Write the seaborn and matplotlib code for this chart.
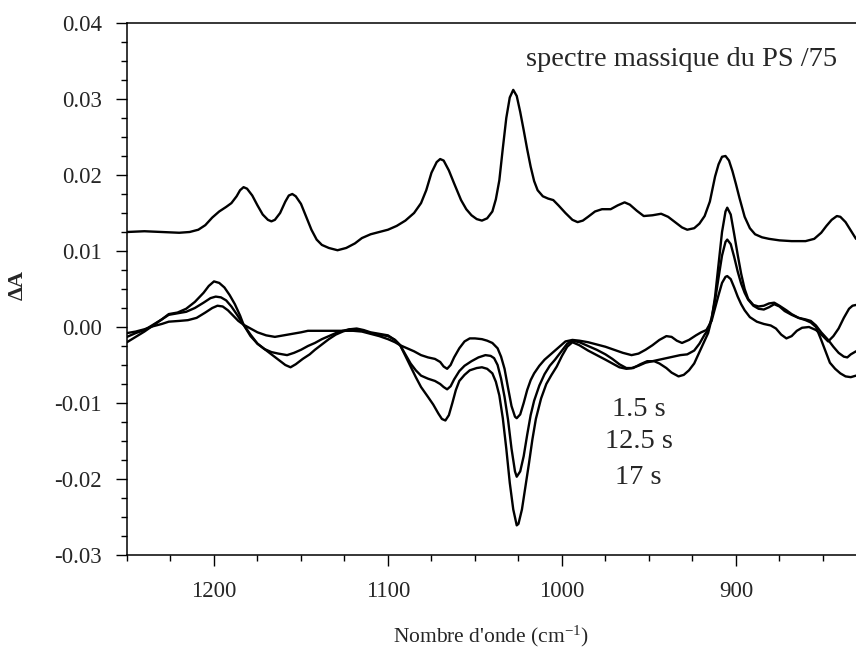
import matplotlib
matplotlib.use("Agg")
import matplotlib.pyplot as plt
import seaborn as sns
import pandas as pd
from matplotlib.ticker import MultipleLocator, FixedLocator, FixedFormatter

# ---------------- data ----------------
wn_ps = [1250, 1240, 1230, 1220, 1214, 1209, 1205, 1201, 1197, 1193, 1190, 1187, 1185, 1183,
         1181, 1178, 1175, 1172, 1169, 1167, 1165, 1162, 1159, 1157, 1155, 1153, 1150, 1147,
         1144, 1141, 1138, 1134, 1129, 1124, 1119, 1115, 1110, 1105, 1100, 1095, 1090, 1085,
         1081, 1078, 1075, 1072, 1070, 1068, 1065, 1062, 1058, 1055, 1052, 1049, 1046, 1043,
         1040, 1038, 1036, 1034, 1032, 1030, 1028, 1026, 1024, 1022, 1020, 1018, 1016, 1014,
         1011, 1008, 1005, 1002, 998, 994, 991, 988, 985, 981, 977, 972, 968, 964, 961, 957,
         953, 948, 943, 939, 935, 931, 928, 924, 921, 918, 915, 912, 910, 908, 906, 904, 902,
         900, 898, 895, 892, 889, 885, 881, 875, 868, 860, 855, 851, 848, 845, 842, 840, 837,
         834, 831]
abs_ps = [0.0125, 0.0126, 0.0125, 0.0124, 0.0125, 0.0128, 0.0134, 0.0144, 0.0152, 0.0158,
          0.0163, 0.0172, 0.0180, 0.0184, 0.0182, 0.0173, 0.0160, 0.0148, 0.0141, 0.0139,
          0.0141, 0.0150, 0.0165, 0.0173, 0.0175, 0.0172, 0.0162, 0.0145, 0.0128, 0.0115,
          0.0108, 0.0104, 0.0101, 0.0104, 0.0110, 0.0117, 0.0122, 0.0125, 0.0128, 0.0133,
          0.0140, 0.0150, 0.0163, 0.0180, 0.0203, 0.0217, 0.0221, 0.0219, 0.0206, 0.0189,
          0.0167, 0.0155, 0.0147, 0.0142, 0.0140, 0.0143, 0.0152, 0.0168, 0.0193, 0.0235,
          0.0275, 0.0302, 0.0312, 0.0304, 0.0283, 0.0259, 0.0234, 0.0211, 0.0192, 0.0180,
          0.0172, 0.0169, 0.0167, 0.0160, 0.0150, 0.0141, 0.0138, 0.0140, 0.0145, 0.0152,
          0.0155, 0.0155, 0.0160, 0.0164, 0.0161, 0.0153, 0.0146, 0.0147, 0.0149, 0.0145,
          0.0138, 0.0131, 0.0128, 0.0130, 0.0136, 0.0146, 0.0165, 0.0198, 0.0214, 0.0224,
          0.0225, 0.0219, 0.0205, 0.0188, 0.0170, 0.0145, 0.0130, 0.0122, 0.0118, 0.0116,
          0.0114, 0.0113, 0.0113, 0.0116, 0.0124, 0.0133, 0.0141, 0.0146, 0.0145, 0.0138,
          0.0127, 0.0116]

wn_a = [1250, 1245, 1240, 1235, 1230, 1226, 1220, 1215, 1210, 1205, 1201, 1198, 1195, 1192,
        1189, 1186, 1183, 1179, 1175, 1170, 1165, 1160, 1155, 1150, 1146, 1138, 1130, 1120,
        1115, 1110, 1105, 1100, 1096, 1093, 1089, 1085, 1081, 1077, 1073, 1070, 1068, 1066,
        1064, 1062, 1059, 1056, 1053, 1050, 1046, 1043, 1040, 1037, 1035, 1033, 1031, 1029,
        1027, 1026, 1024, 1022, 1020, 1018, 1016, 1013, 1010, 1006, 1002, 998, 994, 990, 985,
        980, 975, 970, 965, 960, 956, 952, 948, 944, 940, 937, 934, 931, 927, 923, 920, 917,
        914, 912, 910, 908, 906, 905, 903, 901, 899, 897, 895, 892, 888, 884, 880, 877, 874,
        871, 868, 865, 862, 858, 854, 850, 847, 844, 841, 838, 835, 833, 831]
abs_a = [-0.0008, -0.0006, -0.0003, 0.0001, 0.0004, 0.0007, 0.0008, 0.0009, 0.0012, 0.0019,
         0.0025, 0.0028, 0.0027, 0.0022, 0.0015, 0.0008, 0.0003, -0.0002, -0.0007, -0.0011,
         -0.0013, -0.0011, -0.0009, -0.0007, -0.0005, -0.0005, -0.0005, -0.0005, -0.0006,
         -0.0009, -0.0012, -0.0016, -0.0020, -0.0024, -0.0028, -0.0032, -0.0037, -0.0040,
         -0.0042, -0.0046, -0.0052, -0.0055, -0.0050, -0.0040, -0.0028, -0.0019, -0.0015,
         -0.0015, -0.0016, -0.0018, -0.0021, -0.0028, -0.0039, -0.0055, -0.0080, -0.0104,
         -0.0118, -0.0120, -0.0115, -0.0100, -0.0083, -0.0070, -0.0061, -0.0051, -0.0043,
         -0.0035, -0.0027, -0.0019, -0.0017, -0.0018, -0.0020, -0.0023, -0.0026, -0.0030,
         -0.0034, -0.0037, -0.0035, -0.0030, -0.0024, -0.0017, -0.0012, -0.0013, -0.0018,
         -0.0021, -0.0017, -0.0011, -0.0007, -0.0004, 0.0008, 0.0025, 0.0042, 0.0058, 0.0066,
         0.0067, 0.0063, 0.0052, 0.0040, 0.0030, 0.0022, 0.0013, 0.0007, 0.0004, 0.0002,
         -0.0002, -0.0010, -0.0015, -0.0012, -0.0005, -0.0001, 0.0000, -0.0004, -0.0012,
         -0.0019, -0.0012, -0.0002, 0.0012, 0.0024, 0.0028, 0.0029]

wn_b = [1250, 1245, 1240, 1235, 1230, 1226, 1221, 1216, 1211, 1206, 1202, 1199, 1196, 1193,
        1190, 1187, 1183, 1179, 1175, 1171, 1167, 1163, 1158, 1154, 1150, 1146, 1142, 1138,
        1134, 1130, 1126, 1122, 1118, 1114, 1110, 1105, 1100, 1096, 1093, 1090, 1087, 1084,
        1081, 1077, 1073, 1070, 1068, 1066, 1064, 1062, 1059, 1056, 1052, 1048, 1044, 1041,
        1039, 1037, 1035, 1033, 1031, 1029, 1027, 1026, 1024, 1022, 1020, 1018, 1016, 1013,
        1010, 1007, 1004, 1000, 997, 994, 990, 985, 980, 975, 971, 967, 963, 960, 956, 952,
        948, 944, 940, 936, 932, 928, 924, 921, 918, 916, 914, 912, 910, 908, 906, 905, 903,
        901, 899, 897, 895, 893, 890, 887, 884, 881, 878, 875, 872, 868, 864, 860, 857, 854,
        851, 847, 844, 841, 838, 836, 834, 831]
abs_b = [-0.0013, -0.0008, -0.0004, 0.0003, 0.0010, 0.0016, 0.0018, 0.0020, 0.0025, 0.0032,
         0.0038, 0.0040, 0.0039, 0.0035, 0.0027, 0.0017, 0.0003, -0.0010, -0.0022, -0.0029,
         -0.0033, -0.0035, -0.0037, -0.0034, -0.0030, -0.0025, -0.0021, -0.0016, -0.0012,
         -0.0008, -0.0005, -0.0003, -0.0003, -0.0005, -0.0008, -0.0010, -0.0012, -0.0017,
         -0.0024, -0.0036, -0.0048, -0.0057, -0.0064, -0.0068, -0.0071, -0.0075, -0.0079,
         -0.0082, -0.0078, -0.0069, -0.0058, -0.0051, -0.0045, -0.0040, -0.0037, -0.0038,
         -0.0041, -0.0050, -0.0068, -0.0092, -0.0122, -0.0160, -0.0190, -0.0197, -0.0190,
         -0.0170, -0.0142, -0.0116, -0.0097, -0.0077, -0.0062, -0.0051, -0.0043, -0.0031,
         -0.0022, -0.0018, -0.0020, -0.0025, -0.0030, -0.0036, -0.0042, -0.0049, -0.0054,
         -0.0054, -0.0051, -0.0047, -0.0045, -0.0043, -0.0041, -0.0039, -0.0037, -0.0036,
         -0.0031, -0.0022, -0.0010, -0.0004, 0.0012, 0.0035, 0.0065, 0.0094, 0.0112, 0.0115,
         0.0109, 0.0092, 0.0073, 0.0057, 0.0045, 0.0036, 0.0028, 0.0024, 0.0023, 0.0026,
         0.0030, 0.0027, 0.0021, 0.0016, 0.0012, 0.0010, 0.0008, 0.0002, -0.0007, -0.0017,
         -0.0026, -0.0034, -0.0039, -0.0040, -0.0036, -0.0032]

wn_c = [1250, 1245, 1240, 1235, 1230, 1226, 1221, 1216, 1211, 1206, 1203, 1200, 1197, 1194,
        1191, 1188, 1185, 1183, 1179, 1175, 1171, 1167, 1163, 1159, 1156, 1153, 1149, 1145,
        1142, 1138, 1134, 1130, 1126, 1122, 1118, 1114, 1110, 1105, 1100, 1096, 1093, 1090,
        1087, 1084, 1081, 1077, 1074, 1071, 1069, 1067, 1065, 1063, 1061, 1059, 1056, 1053,
        1049, 1046, 1043, 1040, 1038, 1036, 1034, 1032, 1030, 1028, 1026, 1025, 1023, 1021,
        1019, 1017, 1015, 1012, 1009, 1006, 1003, 1000, 997, 994, 990, 985, 980, 975, 971,
        967, 963, 959, 955, 951, 947, 944, 940, 937, 933, 930, 927, 924, 921, 918, 916, 914,
        912, 910, 908, 906, 905, 903, 901, 899, 897, 895, 893, 890, 887, 884, 881, 878, 875,
        871, 868, 864, 860, 857, 854, 851, 848, 846, 843, 840, 837, 834, 831]
abs_c = [-0.0020, -0.0013, -0.0006, 0.0002, 0.0010, 0.0017, 0.0019, 0.0024, 0.0033, 0.0045,
         0.0054, 0.0060, 0.0058, 0.0052, 0.0042, 0.0030, 0.0015, 0.0003, -0.0012, -0.0022,
         -0.0029, -0.0036, -0.0043, -0.0050, -0.0053, -0.0049, -0.0042, -0.0036, -0.0030,
         -0.0023, -0.0016, -0.0010, -0.0006, -0.0003, -0.0002, -0.0004, -0.0007, -0.0009,
         -0.0011, -0.0017, -0.0024, -0.0038, -0.0052, -0.0066, -0.0079, -0.0092, -0.0102,
         -0.0114, -0.0121, -0.0123, -0.0116, -0.0100, -0.0083, -0.0071, -0.0063, -0.0057,
         -0.0054, -0.0053, -0.0055, -0.0061, -0.0072, -0.0090, -0.0120, -0.0160, -0.0205,
         -0.0240, -0.0261, -0.0259, -0.0240, -0.0210, -0.0180, -0.0148, -0.0121, -0.0094,
         -0.0075, -0.0063, -0.0052, -0.0038, -0.0026, -0.0020, -0.0024, -0.0031, -0.0037,
         -0.0043, -0.0048, -0.0053, -0.0055, -0.0054, -0.0049, -0.0045, -0.0045, -0.0048,
         -0.0054, -0.0060, -0.0065, -0.0063, -0.0057, -0.0048, -0.0033, -0.0018, -0.0008,
         0.0010, 0.0040, 0.0082, 0.0125, 0.0152, 0.0157, 0.0148, 0.0122, 0.0095, 0.0070,
         0.0050, 0.0037, 0.0029, 0.0027, 0.0028, 0.0031, 0.0032, 0.0028, 0.0022, 0.0017,
         0.0012, 0.0009, 0.0006, 0.0000, -0.0017, -0.0035, -0.0047, -0.0055, -0.0061,
         -0.0065, -0.0066, -0.0064]

y_ticks = [-0.03, -0.02, -0.01, 0.00, 0.01, 0.02, 0.03, 0.04]
y_tick_labels = ["-0.03", "-0.02", "-0.01", "0.00", "0.01", "0.02", "0.03", "0.04"]
x_ticks = [1200, 1100, 1000, 900]
x_tick_labels = ["1200", "1100", "1000", "900"]
time_labels = ["1.5 s", "12.5 s", "17 s"]

# ---------------- style ----------------
sns.set_style("ticks")
plt.rcParams["font.family"] = ["Liberation Serif", "DejaVu Serif"]
plt.rcParams["mathtext.fontset"] = "custom"
plt.rcParams["mathtext.rm"] = "Liberation Serif"
plt.rcParams["mathtext.it"] = "Liberation Serif:italic"

W, H = 856, 653
fig = plt.figure(figsize=(W / 100, H / 100), dpi=100)
left_px, right_px, top_px, bot_px = 127, 856, 23, 555
ax = fig.add_axes([left_px / W, 1 - bot_px / H, (right_px - left_px) / W, (bot_px - top_px) / H])

series = [(wn_ps, abs_ps), (wn_a, abs_a), (wn_b, abs_b), (wn_c, abs_c)]
for wn, ab in series:
    df = pd.DataFrame({"wn": wn, "dA": ab})
    sns.lineplot(data=df, x="wn", y="dA", ax=ax, color="black", linewidth=1.7,
                 estimator=None, sort=True, solid_joinstyle="round")

ax.set_xlim(1250, 831)
ax.set_ylim(-0.03, 0.04)

ax.yaxis.set_major_locator(FixedLocator(y_ticks))
ax.yaxis.set_major_formatter(FixedFormatter(y_tick_labels))
ax.yaxis.set_minor_locator(MultipleLocator(0.0025))
ax.xaxis.set_major_locator(FixedLocator(x_ticks))
ax.xaxis.set_major_formatter(FixedFormatter(x_tick_labels))
ax.xaxis.set_minor_locator(MultipleLocator(25))

ax.tick_params(axis="both", which="major", direction="out", length=8, width=1.0,
               labelsize=16.5, color="black")
ax.tick_params(axis="both", which="minor", direction="out", length=4, width=1.0, color="black")
ax.tick_params(axis="x", which="major", pad=11)
ax.tick_params(axis="y", which="major", pad=10)

for s in ["left", "bottom", "top"]:
    ax.spines[s].set_visible(True)
    ax.spines[s].set_color("black")
    ax.spines[s].set_linewidth(1.1)
ax.spines["right"].set_visible(False)

ax.set_xlabel("")
ax.set_ylabel("")

fig.text(491 / W, 1 - 636 / H, "Nombre d'onde (cm$^{\\mathregular{-1}}$)", ha="center",
         va="center", fontsize=15.5)
fig.text(18 / W, 1 - 285 / H, "ΔA", ha="center", va="center", rotation=90,
         fontsize=16, fontweight="bold")

ax.text(931, 0.0352, "spectre massique du PS /75", ha="center", va="center", fontsize=20.5)
for lab, yv in zip(time_labels, [-0.0109, -0.0151, -0.0198]):
    ax.text(956, yv, lab, ha="center", va="center", fontsize=20.5)

fig.savefig("out.png", dpi=100)
